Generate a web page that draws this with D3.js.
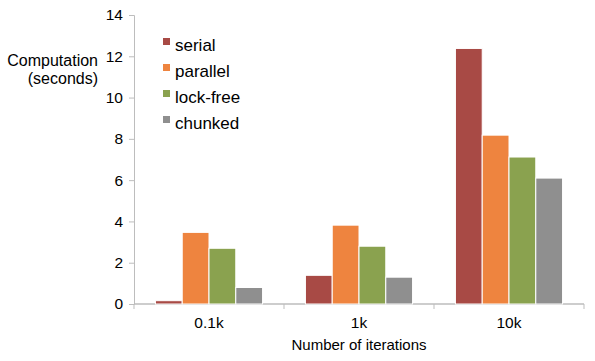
<!DOCTYPE html>
<html>
<head>
<meta charset="utf-8">
<script src="https://cdn.jsdelivr.net/npm/d3@7"></script>
<style>
  body { margin: 0; background: #fff; }
  text { font-family: "Liberation Sans", Arial, Helvetica, sans-serif; fill: #000; }
</style>
</head>
<body>
<svg width="595" height="361"></svg>
<script>
var categories = ["0.1k", "1k", "10k"];
var seriesNames = ["serial", "parallel", "lock-free", "chunked"];
var serial   = [0.16, 1.39, 12.38];
var parallel = [3.47, 3.82, 8.18];
var lockFree = [2.7, 2.8, 7.12];
var chunked  = [0.8, 1.3, 6.1];
var yTicks = [0, 2, 4, 6, 8, 10, 12, 14];
var colors = ["#a84a45", "#ee843f", "#8aa24f", "#8f8f8f"];

var svg = d3.select("svg");

var seriesValues = [serial, parallel, lockFree, chunked];
var data = categories.map(function(c, i) {
  return { cat: c, values: seriesNames.map(function(s, j) { return { key: s, value: seriesValues[j][i] }; }) };
});

var x0 = d3.scaleBand().domain(categories).range([134, 584]).padding(0);
var x1 = d3.scaleBand().domain(seriesNames).range([0, x0.bandwidth()]).paddingInner(0).paddingOuter(0.8);
var y = d3.scaleLinear().domain([0, 14]).range([304, 15]);
var z = d3.scaleOrdinal().domain(seriesNames).range(colors);

// y axis
var yAxis = svg.append("g")
    .attr("transform", "translate(134,0)")
    .call(d3.axisLeft(y).tickValues(yTicks).tickSize(5).tickPadding(6));
yAxis.select(".domain").attr("stroke", "#bdbdbd");
yAxis.selectAll(".tick line").attr("stroke", "#bdbdbd");
yAxis.selectAll(".tick text").style("font-size", "15.5px");

// x axis
var xAxis = svg.append("g")
    .attr("transform", "translate(0,304)");
xAxis.append("line")
    .attr("x1", 134).attr("x2", 584)
    .attr("y1", 0).attr("y2", 0)
    .attr("stroke", "#bdbdbd").attr("stroke-width", 1.5);
xAxis.selectAll(".xtick")
    .data(categories.concat(["end"]))
    .enter().append("line")
    .attr("x1", function(d, i) { return 134 + i * x0.step(); })
    .attr("x2", function(d, i) { return 134 + i * x0.step(); })
    .attr("y1", 0).attr("y2", 5)
    .attr("stroke", "#bdbdbd");
xAxis.selectAll(".xlabel")
    .data(categories)
    .enter().append("text")
    .attr("x", function(d) { return x0(d) + x0.bandwidth() / 2; })
    .attr("y", 24)
    .attr("text-anchor", "middle")
    .style("font-size", "15.5px")
    .text(function(d) { return d; });

// bars
var group = svg.selectAll(".group")
    .data(data)
    .enter().append("g")
    .attr("transform", function(d) { return "translate(" + x0(d.cat) + ",0)"; });

group.selectAll("rect")
    .data(function(d) { return d.values; })
    .enter().append("rect")
    .attr("x", function(d) { return x1(d.key); })
    .attr("y", function(d) { return y(d.value); })
    .attr("width", x1.bandwidth())
    .attr("height", function(d) { return y(0) - y(d.value); })
    .attr("fill", function(d) { return z(d.key); })
    .attr("stroke", "#fff")
    .attr("stroke-width", 1);

// axis titles
svg.append("text")
    .attr("x", 98).attr("y", 66)
    .attr("text-anchor", "end")
    .style("font-size", "16px")
    .text("Computation");
svg.append("text")
    .attr("x", 98).attr("y", 84)
    .attr("text-anchor", "end")
    .style("font-size", "16px")
    .text("(seconds)");
svg.append("text")
    .attr("x", 359).attr("y", 350)
    .attr("text-anchor", "middle")
    .style("font-size", "15px")
    .text("Number of iterations");

// legend
var legend = svg.selectAll(".legend")
    .data(seriesNames)
    .enter().append("g")
    .attr("transform", function(d, i) { return "translate(163," + (38 + i * 26) + ")"; });
legend.append("rect")
    .attr("width", 7).attr("height", 7)
    .attr("fill", function(d) { return z(d); });
legend.append("text")
    .attr("x", 12).attr("y", 13)
    .style("font-size", "17px")
    .text(function(d) { return d; });
</script>
</body>
</html>
